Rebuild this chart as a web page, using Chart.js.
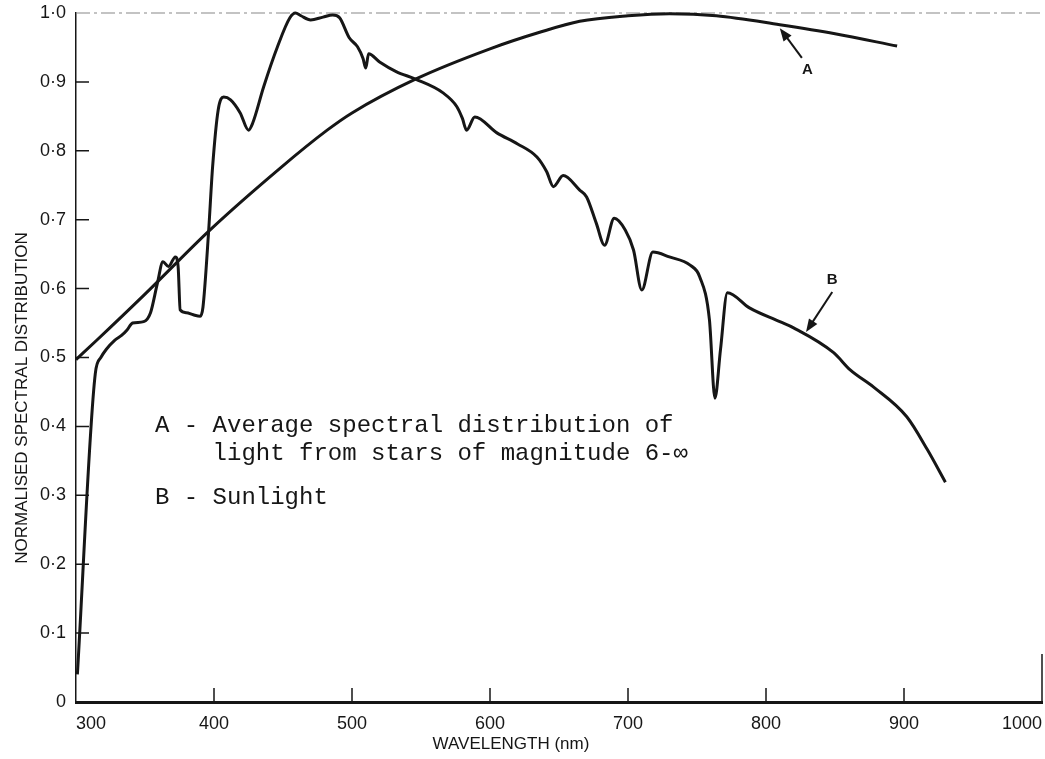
<!DOCTYPE html>
<html>
<head>
<meta charset="utf-8">
<title>Normalised spectral distribution</title>
<script src="https://cdn.jsdelivr.net/npm/chart.js@4.4.1/dist/chart.umd.min.js"></script>
<style>
  html, body { margin: 0; padding: 0; background: #fff; }
  #wrap { width: 1045px; height: 759px; }
</style>
</head>
<body>
<div id="wrap"><canvas id="spectrum"></canvas></div>
<script>
// Curve A - average spectral distribution of light from stars of magnitude 6-inf
const starWavelength = [300, 315, 350, 397, 448, 482, 500, 546, 600, 636, 665, 700, 730, 764, 810, 850, 895];
const starValue      = [0.497, 0.525, 0.592, 0.685, 0.775, 0.83, 0.855, 0.904, 0.948, 0.972, 0.988, 0.996, 0.999, 0.996, 0.983, 0.97, 0.952];

// Curve B - sunlight
const sunWavelength = [301, 314, 318, 322, 328, 333, 337, 341, 349, 354, 359, 363, 367, 372, 374, 375.5, 380, 385, 390, 392,
  396, 399, 403, 407, 412, 419, 425, 428, 436, 446, 455, 459, 463, 470, 479, 486, 491, 498, 504, 508,
  510, 512, 520, 532, 546, 566, 576, 580, 583, 589, 605, 620, 634, 641, 646, 653, 665, 670, 677, 683,
  690, 698, 704, 710, 718, 730, 745, 752, 759, 763, 767, 772, 788, 810, 820, 849, 861, 878, 902, 917, 930];
const sunValue = [0.04, 0.477, 0.5, 0.512, 0.525, 0.532, 0.54, 0.55, 0.552, 0.565, 0.608, 0.639, 0.632, 0.646, 0.632, 0.569, 0.565, 0.562, 0.56, 0.573,
  0.68, 0.777, 0.859, 0.878, 0.874, 0.855, 0.83, 0.84, 0.893, 0.951, 0.993, 1.0, 0.996, 0.99, 0.994, 0.997, 0.993, 0.964, 0.951, 0.934,
  0.92, 0.941, 0.929, 0.915, 0.904, 0.884, 0.864, 0.847, 0.83, 0.849, 0.826, 0.81, 0.791, 0.77, 0.748, 0.764, 0.743, 0.733, 0.695, 0.663,
  0.702, 0.685, 0.656, 0.598, 0.653, 0.646, 0.634, 0.617, 0.555, 0.441, 0.511, 0.594, 0.572, 0.552, 0.543, 0.507, 0.482, 0.457, 0.414, 0.366, 0.319];

const xTicks = [300, 400, 500, 600, 700, 800, 900, 1000];
const yTicks = [0, 0.1, 0.2, 0.3, 0.4, 0.5, 0.6, 0.7, 0.8, 0.9, 1.0];

const legendLines = [
  'A - Average spectral distribution of',
  '    light from stars of magnitude 6-\u221e',
  'B - Sunlight'
];

const INK = '#161616';
const SANS = '"Liberation Sans", Arial, sans-serif';

function toPoints(xs, ys) {
  return xs.map((x, i) => ({ x, y: ys[i] }));
}

function drawArrow(ctx, x1, y1, x2, y2) {
  const ang = Math.atan2(y2 - y1, x2 - x1);
  const head = 13, half = 5;
  ctx.beginPath();
  ctx.moveTo(x1, y1);
  ctx.lineTo(x2 - Math.cos(ang) * head * 0.7, y2 - Math.sin(ang) * head * 0.7);
  ctx.stroke();
  ctx.beginPath();
  ctx.moveTo(x2, y2);
  ctx.lineTo(x2 - Math.cos(ang) * head - Math.sin(ang) * half, y2 - Math.sin(ang) * head + Math.cos(ang) * half);
  ctx.lineTo(x2 - Math.cos(ang) * head + Math.sin(ang) * half, y2 - Math.sin(ang) * head - Math.cos(ang) * half);
  ctx.closePath();
  ctx.fill();
}

// faint dashed line along 1.0 and the short right edge, under the curves
const frame = {
  id: 'frame',
  beforeDatasetsDraw(chart) {
    const { ctx, chartArea: a } = chart;
    ctx.save();
    ctx.strokeStyle = '#888';
    ctx.lineWidth = 1.2;
    ctx.setLineDash([14, 4, 3, 4]);
    ctx.beginPath();
    ctx.moveTo(a.left, a.top);
    ctx.lineTo(a.right, a.top);
    ctx.stroke();
    ctx.setLineDash([]);
    ctx.strokeStyle = INK;
    ctx.lineWidth = 1.5;
    ctx.beginPath();
    ctx.moveTo(a.right, a.bottom);
    ctx.lineTo(a.right, a.bottom - 48);
    ctx.stroke();
    ctx.restore();
  }
};

// inward ticks, axis titles, curve labels and the key text
const decorations = {
  id: 'decorations',
  afterDraw(chart) {
    const { ctx, chartArea: a, scales: { x, y } } = chart;
    ctx.save();
    ctx.strokeStyle = INK;
    ctx.fillStyle = INK;
    ctx.lineWidth = 1.5;
    ctx.beginPath();
    y.ticks.forEach(t => {
      if (t.value <= 0 || t.value >= 1) return;
      const py = y.getPixelForValue(t.value);
      ctx.moveTo(a.left, py);
      ctx.lineTo(a.left + 13, py);
    });
    x.ticks.forEach(t => {
      if (t.value <= 300 || t.value >= 1000) return;
      const px = x.getPixelForValue(t.value);
      ctx.moveTo(px, a.bottom);
      ctx.lineTo(px, a.bottom - 14);
    });
    ctx.stroke();

    // axis titles
    ctx.font = '17px ' + SANS;
    ctx.textAlign = 'center';
    ctx.textBaseline = 'alphabetic';
    ctx.fillText('WAVELENGTH (nm)', 511, 749);
    ctx.save();
    ctx.translate(27, 398);
    ctx.rotate(-Math.PI / 2);
    ctx.fillText('NORMALISED SPECTRAL DISTRIBUTION', 0, 0);
    ctx.restore();

    // curve labels with arrows
    ctx.lineWidth = 2;
    drawArrow(ctx, x.getPixelForValue(826), y.getPixelForValue(0.935),
                   x.getPixelForValue(810), y.getPixelForValue(0.978));
    drawArrow(ctx, x.getPixelForValue(848), y.getPixelForValue(0.595),
                   x.getPixelForValue(829), y.getPixelForValue(0.537));
    ctx.font = 'bold 15px ' + SANS;
    ctx.textBaseline = 'middle';
    ctx.fillText('A', x.getPixelForValue(830), y.getPixelForValue(0.918));
    ctx.fillText('B', x.getPixelForValue(848), y.getPixelForValue(0.612));

    // key
    ctx.font = '24px "Liberation Mono", "DejaVu Sans Mono", monospace';
    ctx.textAlign = 'left';
    ctx.textBaseline = 'alphabetic';
    ctx.fillText(legendLines[0], 155, 432);
    ctx.fillText(legendLines[1], 155, 460);
    ctx.fillText(legendLines[2], 155, 504);
    ctx.restore();
  }
};

new Chart(document.getElementById('spectrum'), {
  type: 'line',
  data: {
    datasets: [
      {
        label: 'A',
        data: toPoints(starWavelength, starValue),
        borderColor: INK, borderWidth: 3, pointRadius: 0,
        cubicInterpolationMode: 'monotone', fill: false, clip: false
      },
      {
        label: 'B',
        data: toPoints(sunWavelength, sunValue),
        borderColor: INK, borderWidth: 3, pointRadius: 0,
        cubicInterpolationMode: 'monotone', fill: false, clip: false
      }
    ]
  },
  options: {
    responsive: true,
    maintainAspectRatio: false,
    animation: false,
    layout: { padding: { top: 13, right: 3, bottom: 0, left: 0 } },
    plugins: { legend: { display: false }, tooltip: { enabled: false } },
    scales: {
      x: {
        type: 'linear', min: 300, max: 1000,
        afterBuildTicks: axis => { axis.ticks = xTicks.map(v => ({ value: v })); },
        afterFit: scale => { scale.height = 57; scale.paddingLeft = 0; scale.paddingRight = 0; },
        grid: { display: false, drawTicks: false },
        border: { display: true, color: INK, width: 3 },
        ticks: {
          align: 'inner', padding: 11, color: INK,
          font: { family: SANS, size: 18 },
          maxRotation: 0, autoSkip: false,
          callback: v => String(v)
        }
      },
      y: {
        type: 'linear', min: 0, max: 1,
        afterBuildTicks: axis => { axis.ticks = yTicks.map(v => ({ value: v })); },
        afterFit: scale => { scale.width = 76; scale.paddingTop = 0; scale.paddingBottom = 0; },
        grid: { display: false, drawTicks: false },
        border: { display: true, color: INK, width: 1.5 },
        ticks: {
          padding: 10, color: INK,
          font: { family: SANS, size: 18 },
          autoSkip: false,
          callback: v => v === 0 ? '0' : v.toFixed(1).replace('.', '\u00b7')
        }
      }
    }
  },
  plugins: [frame, decorations]
});
</script>
</body>
</html>
